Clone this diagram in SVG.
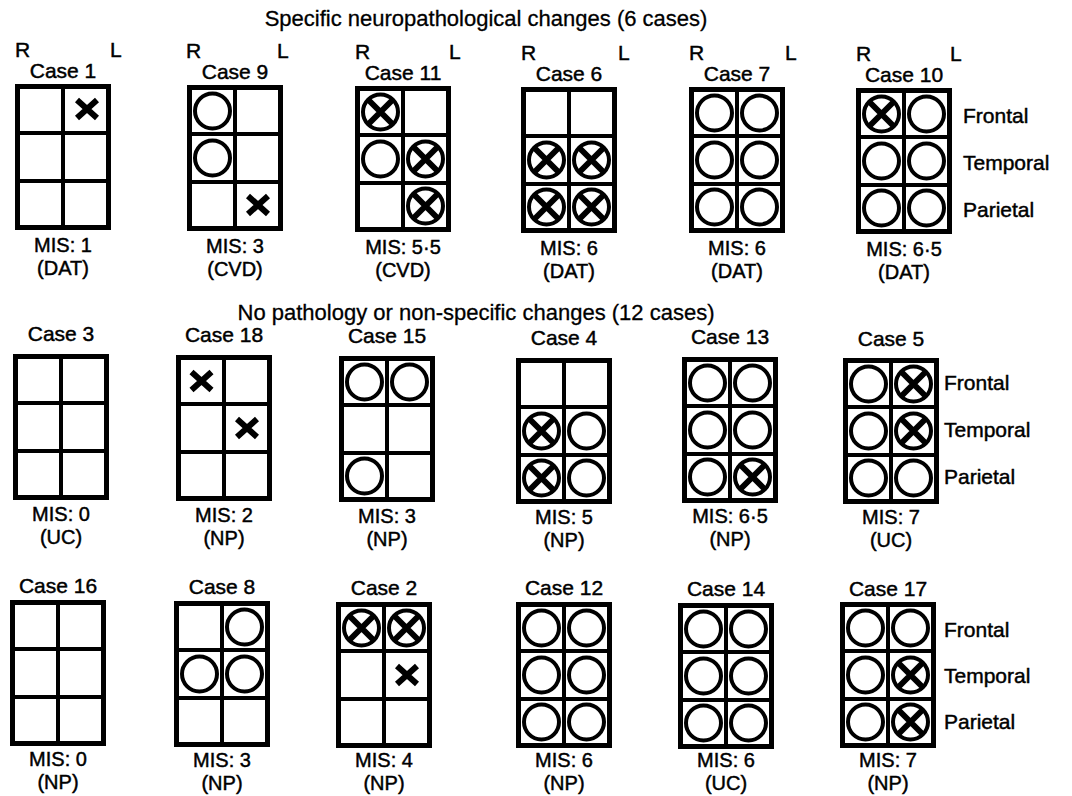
<svg xmlns="http://www.w3.org/2000/svg" xmlns:xlink="http://www.w3.org/1999/xlink" width="1072" height="796" viewBox="0 0 1072 796">
<style>
.frame{fill:none;stroke:#000;stroke-width:5}
.inner{fill:none;stroke:#000;stroke-width:4}
.c{fill:none;stroke:#000;stroke-width:4}
.xx{fill:none;stroke:#000;stroke-width:6}
text{font-family:"Liberation Sans",Arial,Helvetica,sans-serif;font-size:21px;fill:#000;stroke:#000;stroke-width:0.45}
.m{text-anchor:middle}
.mis{text-anchor:middle;font-size:20px}
.title{font-size:22px;text-anchor:middle;stroke-width:0.3}
</style>
<defs>
<g id="grid"><rect x="2.5" y="2.5" width="91" height="141" class="frame"/><path d="M48 5V141M5 49H91M5 97H91" class="inner"/></g>
<g id="O"><circle r="17.5" class="c"/></g>
<g id="OX"><circle r="17.5" class="c"/><path d="M-12 -12L12 12M12 -12L-12 12" class="xx"/></g>
<g id="X"><path d="M-10 -9L10 9M10 -9L-10 9" class="xx"/></g>
</defs>
<rect width="1072" height="796" fill="#fff"/>
<text class="title" x="486" y="26">Specific neuropathological changes (6 cases)</text>
<text class="title" x="476" y="320">No pathology or non-specific changes (12 cases)</text>

<!-- Row 1 -->
<g id="case1" transform="translate(15,84)">
<use href="#grid"/><use href="#X" x="72" y="25"/>
<text x="0" y="-27">R</text><text x="95" y="-27">L</text>
<text class="m" x="48" y="-6">Case 1</text>
<text class="mis" x="48" y="168">MIS: 1</text><text class="mis" x="48" y="191">(DAT)</text>
</g>
<g id="case9" transform="translate(187,85)">
<use href="#grid"/><use href="#O" x="25.5" y="26"/><use href="#O" x="25.5" y="73"/><use href="#X" x="71" y="120"/>
<text x="-1" y="-27">R</text><text x="90" y="-27">L</text>
<text class="m" x="48" y="-6">Case 9</text>
<text class="mis" x="48" y="168">MIS: 3</text><text class="mis" x="48" y="191">(CVD)</text>
</g>
<g id="case11" transform="translate(355,86)">
<use href="#grid"/><use href="#OX" x="25.5" y="26"/><use href="#O" x="25.5" y="73"/><use href="#OX" x="70.5" y="73"/><use href="#OX" x="70.5" y="120"/>
<text x="0" y="-27">R</text><text x="94" y="-27">L</text>
<text class="m" x="48" y="-6">Case 11</text>
<text class="mis" x="48" y="168">MIS: 5·5</text><text class="mis" x="48" y="191">(CVD)</text>
</g>
<g id="case6" transform="translate(521,87)">
<use href="#grid"/><use href="#OX" x="25.5" y="73"/><use href="#OX" x="70.5" y="73"/><use href="#OX" x="25.5" y="120"/><use href="#OX" x="70.5" y="120"/>
<text x="0" y="-27">R</text><text x="97" y="-27">L</text>
<text class="m" x="48" y="-6">Case 6</text>
<text class="mis" x="48" y="168">MIS: 6</text><text class="mis" x="48" y="191">(DAT)</text>
</g>
<g id="case7" transform="translate(689,87)">
<use href="#grid"/><use href="#O" x="25.5" y="26"/><use href="#O" x="70.5" y="26"/><use href="#O" x="25.5" y="73"/><use href="#O" x="70.5" y="73"/><use href="#O" x="25.5" y="120"/><use href="#O" x="70.5" y="120"/>
<text x="0" y="-27">R</text><text x="96" y="-27">L</text>
<text class="m" x="48" y="-6">Case 7</text>
<text class="mis" x="48" y="168">MIS: 6</text><text class="mis" x="48" y="191">(DAT)</text>
</g>
<g id="case10" transform="translate(856,88)">
<use href="#grid"/><use href="#OX" x="25.5" y="26"/><use href="#O" x="70.5" y="26"/><use href="#O" x="25.5" y="73"/><use href="#O" x="70.5" y="73"/><use href="#O" x="25.5" y="120"/><use href="#O" x="70.5" y="120"/>
<text x="0" y="-27">R</text><text x="94" y="-27">L</text>
<text class="m" x="48" y="-6">Case 10</text>
<text class="mis" x="48" y="168">MIS: 6·5</text><text class="mis" x="48" y="191">(DAT)</text>
</g>
<g id="labels1">
<text x="963" y="123">Frontal</text><text x="963" y="170">Temporal</text><text x="963" y="217">Parietal</text>
</g>

<!-- Row 2 -->
<g id="case3" transform="translate(13,354)">
<use href="#grid"/>
<text class="m" x="48" y="-13">Case 3</text>
<text class="mis" x="48" y="167">MIS: 0</text><text class="mis" x="48" y="190">(UC)</text>
</g>
<g id="case18" transform="translate(176,355)">
<use href="#grid"/><use href="#X" x="25.5" y="26"/><use href="#X" x="71" y="73"/>
<text class="m" x="48" y="-13">Case 18</text>
<text class="mis" x="48" y="167">MIS: 2</text><text class="mis" x="48" y="190">(NP)</text>
</g>
<g id="case15" transform="translate(339,356)">
<use href="#grid"/><use href="#O" x="25.5" y="26"/><use href="#O" x="70.5" y="26"/><use href="#O" x="25.5" y="120"/>
<text class="m" x="48" y="-13">Case 15</text>
<text class="mis" x="48" y="167">MIS: 3</text><text class="mis" x="48" y="190">(NP)</text>
</g>
<g id="case4" transform="translate(516,358)">
<use href="#grid"/><use href="#OX" x="25.5" y="73"/><use href="#O" x="70.5" y="73"/><use href="#OX" x="25.5" y="120"/><use href="#O" x="70.5" y="120"/>
<text class="m" x="48" y="-13">Case 4</text>
<text class="mis" x="48" y="166">MIS: 5</text><text class="mis" x="48" y="189">(NP)</text>
</g>
<g id="case13" transform="translate(682,357)">
<use href="#grid"/><use href="#O" x="25.5" y="26"/><use href="#O" x="70.5" y="26"/><use href="#O" x="25.5" y="73"/><use href="#O" x="70.5" y="73"/><use href="#O" x="25.5" y="120"/><use href="#OX" x="70.5" y="120"/>
<text class="m" x="48" y="-13">Case 13</text>
<text class="mis" x="48" y="166">MIS: 6·5</text><text class="mis" x="48" y="189">(NP)</text>
</g>
<g id="case5" transform="translate(843,358)">
<use href="#grid"/><use href="#O" x="25.5" y="26"/><use href="#OX" x="70.5" y="26"/><use href="#O" x="25.5" y="73"/><use href="#OX" x="70.5" y="73"/><use href="#O" x="25.5" y="120"/><use href="#O" x="70.5" y="120"/>
<text class="m" x="48" y="-12">Case 5</text>
<text class="mis" x="48" y="166">MIS: 7</text><text class="mis" x="48" y="189">(UC)</text>
</g>
<g id="labels2">
<text x="944" y="390">Frontal</text><text x="944" y="437">Temporal</text><text x="944" y="484">Parietal</text>
</g>

<!-- Row 3 -->
<g id="case16" transform="translate(10,600)">
<use href="#grid"/>
<text class="m" x="48" y="-7">Case 16</text>
<text class="mis" x="48" y="166">MIS: 0</text><text class="mis" x="48" y="189">(NP)</text>
</g>
<g id="case8" transform="translate(174,601)">
<use href="#grid"/><use href="#O" x="70.5" y="26"/><use href="#O" x="25.5" y="73"/><use href="#O" x="70.5" y="73"/>
<text class="m" x="48" y="-7">Case 8</text>
<text class="mis" x="48" y="166">MIS: 3</text><text class="mis" x="48" y="189">(NP)</text>
</g>
<g id="case2" transform="translate(336,602)">
<use href="#grid"/><use href="#OX" x="25.5" y="26"/><use href="#OX" x="70.5" y="26"/><use href="#X" x="71" y="73"/>
<text class="m" x="48" y="-7">Case 2</text>
<text class="mis" x="48" y="165">MIS: 4</text><text class="mis" x="48" y="188">(NP)</text>
</g>
<g id="case12" transform="translate(516,602)">
<use href="#grid"/><use href="#O" x="25.5" y="26"/><use href="#O" x="70.5" y="26"/><use href="#O" x="25.5" y="73"/><use href="#O" x="70.5" y="73"/><use href="#O" x="25.5" y="120"/><use href="#O" x="70.5" y="120"/>
<text class="m" x="48" y="-7">Case 12</text>
<text class="mis" x="48" y="165">MIS: 6</text><text class="mis" x="48" y="188">(NP)</text>
</g>
<g id="case14" transform="translate(678,603)">
<use href="#grid"/><use href="#O" x="25.5" y="26"/><use href="#O" x="70.5" y="26"/><use href="#O" x="25.5" y="73"/><use href="#O" x="70.5" y="73"/><use href="#O" x="25.5" y="120"/><use href="#O" x="70.5" y="120"/>
<text class="m" x="48" y="-7">Case 14</text>
<text class="mis" x="48" y="164">MIS: 6</text><text class="mis" x="48" y="187">(UC)</text>
</g>
<g id="case17" transform="translate(840,602)">
<use href="#grid"/><use href="#O" x="25.5" y="26"/><use href="#O" x="70.5" y="26"/><use href="#O" x="25.5" y="73"/><use href="#OX" x="70.5" y="73"/><use href="#O" x="25.5" y="120"/><use href="#OX" x="70.5" y="120"/>
<text class="m" x="48" y="-6">Case 17</text>
<text class="mis" x="48" y="165">MIS: 7</text><text class="mis" x="48" y="188">(NP)</text>
</g>
<g id="labels3">
<text x="944" y="637">Frontal</text><text x="944" y="683">Temporal</text><text x="944" y="729">Parietal</text>
</g>
</svg>
